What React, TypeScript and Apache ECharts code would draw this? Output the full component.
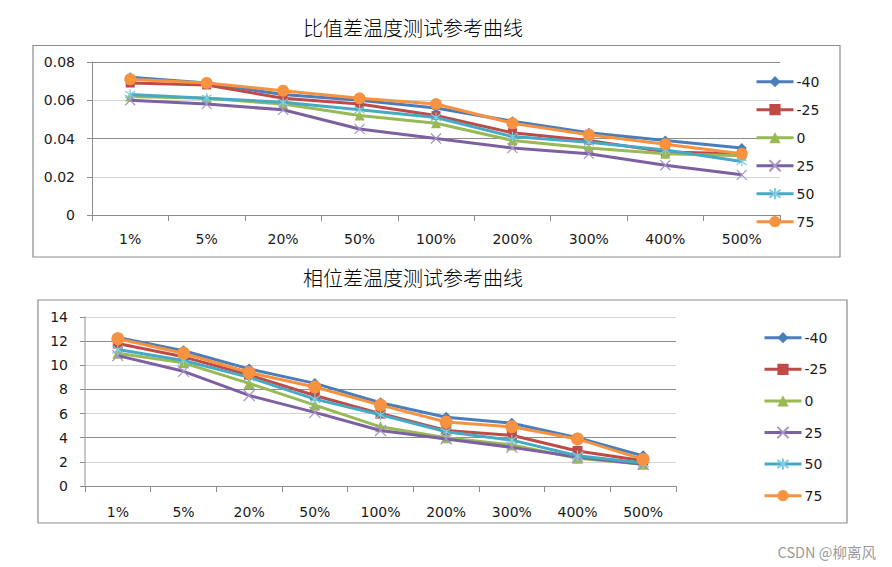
import React, { useEffect, useRef } from "react";
import * as echarts from "echarts";

const categories = ["1%", "5%", "20%", "50%", "100%", "200%", "300%", "400%", "500%"];
const seriesNames = ["-40", "-25", "0", "25", "50", "75"];

const ratioM40 = [0.072, 0.069, 0.063, 0.06, 0.056, 0.049, 0.043, 0.039, 0.035];
const ratioM25 = [0.069, 0.068, 0.061, 0.058, 0.052, 0.043, 0.039, 0.033, 0.032];
const ratio0 = [0.062, 0.061, 0.058, 0.052, 0.048, 0.039, 0.035, 0.032, 0.031];
const ratio25 = [0.06, 0.058, 0.055, 0.045, 0.04, 0.035, 0.032, 0.026, 0.021];
const ratio50 = [0.063, 0.061, 0.059, 0.055, 0.051, 0.041, 0.038, 0.034, 0.028];
const ratio75 = [0.071, 0.069, 0.065, 0.061, 0.058, 0.048, 0.042, 0.037, 0.032];

const phaseM40 = [12.3, 11.2, 9.7, 8.5, 6.9, 5.7, 5.2, 4.0, 2.5];
const phaseM25 = [11.8, 10.7, 9.2, 7.5, 6.0, 4.6, 4.2, 2.9, 2.1];
const phase0 = [11.0, 10.2, 8.5, 6.7, 4.9, 4.0, 3.4, 2.3, 1.8];
const phase25 = [10.8, 9.5, 7.5, 6.1, 4.6, 3.9, 3.2, 2.4, 1.8];
const phase50 = [11.3, 10.4, 9.0, 7.2, 5.9, 4.5, 3.8, 2.5, 1.9];
const phase75 = [12.2, 11.0, 9.4, 8.2, 6.7, 5.3, 4.9, 3.9, 2.2];

const ratioData = [ratioM40, ratioM25, ratio0, ratio25, ratio50, ratio75];
const phaseData = [phaseM40, phaseM25, phase0, phase25, phase50, phase75];

const titleTop = "比值差温度测试参考曲线";
const titleBottom = "相位差温度测试参考曲线";
const watermark = "CSDN @柳离风";

const lineColors = ["#4A7EBB", "#BE4B48", "#98B954", "#7D60A0", "#46AAC5", "#F69240"];
const markerColors = ["#4A7EBB", "#BE4B48", "#98B954", "#A593C8", "#7FCDE0", "#F69240"];
const symbols = [
  "diamond",
  "rect",
  "triangle",
  "path://M0,0L10,10M10,0L0,10",
  "path://M5,0L5,10M0,1.5L10,8.5M10,1.5L0,8.5",
  "circle",
];
const symbolSizesTop = [10, 9, 10, 10, 10, 12];
const symbolSizesBottom = [11, 10, 11, 11, 11, 13];

const FONT = "DejaVu Sans";

function makeSeries(data: number[][], gridIndex: number, sizes: number[]) {
  return data.map((d, i) => {
    const isStroke = i === 3 || i === 4;
    return {
      type: "line",
      name: seriesNames[i],
      xAxisIndex: gridIndex,
      yAxisIndex: gridIndex,
      data: d,
      symbol: symbols[i],
      symbolSize: sizes[i],
      showAllSymbol: true,
      lineStyle: { color: lineColors[i], width: 3 },
      itemStyle: isStroke
        ? { color: lineColors[i], borderColor: markerColors[i], borderWidth: 1.2 }
        : { color: markerColors[i], borderColor: markerColors[i], borderWidth: 0 },
      emphasis: { disabled: true },
      z: 2 + i,
    };
  });
}

function axisLabelStyle() {
  return { fontFamily: FONT, fontSize: 14, color: "#1a1a1a" };
}

function legendOpt(left: number, top: number, gap: number) {
  return {
    orient: "vertical",
    left,
    top,
    padding: 0,
    itemWidth: 37,
    itemHeight: 14,
    itemGap: gap,
    data: seriesNames,
    lineStyle: { width: 3 },
    textStyle: { fontFamily: FONT, fontSize: 14, color: "#1a1a1a", padding: [0, 0, 0, -2] },
    selectedMode: false,
  };
}

export default function App() {
  const ref = useRef<HTMLDivElement>(null);
  useEffect(() => {
    if (!ref.current) return;
    const chart = echarts.init(ref.current, null, { renderer: "svg" });
    const option = {
      animation: false,
      backgroundColor: "#ffffff",
      grid: [
        { left: 92, top: 62, width: 688, height: 153 },
        { left: 85, top: 317, width: 591, height: 169 },
      ],
      xAxis: [0, 1].map((g) => ({
        type: "category",
        gridIndex: g,
        data: categories,
        boundaryGap: true,
        axisLine: { lineStyle: { color: "#8c8c8c", width: 1 } },
        axisTick: { show: true, length: 6, lineStyle: { color: "#8c8c8c" } },
        axisLabel: { ...axisLabelStyle(), margin: g === 0 ? 17 : 19 },
        splitLine: { show: false },
      })),
      yAxis: [
        {
          type: "value",
          gridIndex: 0,
          min: 0,
          max: 0.08,
          interval: 0.02,
          axisLine: { show: true, lineStyle: { color: "#8c8c8c" } },
          axisTick: { show: true, length: 5, lineStyle: { color: "#8c8c8c" } },
          axisLabel: { ...axisLabelStyle(), margin: 17 },
          splitLine: { show: true, lineStyle: { color: ["#8c8c8c", "#d4d4d4"], width: 1 } },
        },
        {
          type: "value",
          gridIndex: 1,
          min: 0,
          max: 14,
          interval: 2,
          axisLine: { show: true, lineStyle: { color: "#b4b4b4", width: 1.5 } },
          axisTick: { show: true, length: 5, lineStyle: { color: "#8c8c8c" } },
          axisLabel: { ...axisLabelStyle(), margin: 17 },
          splitLine: { show: true, lineStyle: { color: ["#8c8c8c", "#d4d4d4"], width: 1 } },
        },
      ],
      legend: [legendOpt(755, 74.7, 14), legendOpt(763, 330.7, 17.6)],
      graphic: [
        {
          type: "rect",
          shape: { x: 33, y: 45.5, width: 807, height: 211.5 },
          style: { fill: "none", stroke: "#8c8c8c", lineWidth: 1.2 },
          z: -1,
        },
        {
          type: "rect",
          shape: { x: 38, y: 300, width: 809, height: 223 },
          style: { fill: "none", stroke: "#8c8c8c", lineWidth: 1.2 },
          z: -1,
        },
        {
          type: "text",
          x: 413,
          y: 27,
          style: {
            text: titleTop,
            fontFamily: "Noto Sans CJK SC",
            fontSize: 20,
            fontWeight: 300,
            fill: "#000",
            textAlign: "center",
            textVerticalAlign: "middle",
          },
        },
        {
          type: "text",
          x: 413,
          y: 277,
          style: {
            text: titleBottom,
            fontFamily: "Noto Sans CJK SC",
            fontSize: 20,
            fontWeight: 300,
            fill: "#000",
            textAlign: "center",
            textVerticalAlign: "middle",
          },
        },
        {
          type: "text",
          x: 876,
          y: 551,
          style: {
            text: watermark,
            fontFamily: "Noto Sans CJK SC",
            fontSize: 14.5,
            fill: "#9a9a9a",
            textAlign: "right",
            textVerticalAlign: "middle",
          },
        },
      ],
      series: [
        ...makeSeries(ratioData, 0, symbolSizesTop),
        ...makeSeries(phaseData, 1, symbolSizesBottom),
      ],
    };
    chart.setOption(option as any);
    return () => chart.dispose();
  }, []);
  return (
    <div
      ref={ref}
      style={{ position: "fixed", left: 0, top: 0, width: 892, height: 567, background: "#fff" }}
    />
  );
}
